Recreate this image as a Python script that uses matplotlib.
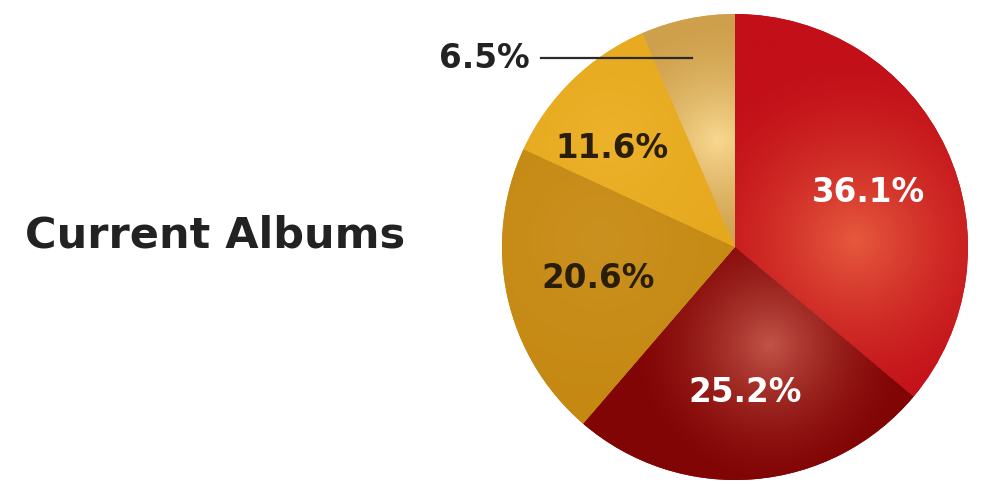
import numpy as np
import matplotlib.pyplot as plt
from matplotlib.colors import to_rgb

# album share, clockwise from 12 o'clock
labels = ['36.1%', '25.2%', '20.6%', '11.6%', '6.5%']
shares = [36.1, 25.2, 20.6, 11.6, 6.5]
title = 'Current Albums'

base_cols = ['#c20f18', '#820505', '#c58912', '#e5a71c', '#cfa04c']
glow_cols = ['#e65a3e', '#c25448', '#cb9120', '#ecb22a', '#f8d890']
glow_pts = [(855, 240), (770, 345), (600, 240), (610, 140), (718, 140)]
glow_rad = [190, 140, 200, 200, 120]
text_cols = ['white', 'white', '#2a1e0a', '#2a1e0a', '#222222']

W, H = 987, 484
cx, cy, R = 735, 237, 233

fig = plt.figure(figsize=(W / 100, H / 100), dpi=100)
ax = fig.add_axes([0, 0, 1, 1])

wedges, _ = ax.pie(shares, startangle=90, counterclock=False, center=(cx, cy),
                   radius=R, colors=base_cols, frame=True,
                   wedgeprops=dict(linewidth=0))
ax.set_xlim(0, W)
ax.set_ylim(0, H)
ax.set_aspect('equal')
ax.axis('off')

# soft radial shading inside each wedge (glow points given from the top edge)
xs = np.linspace(cx - R, cx + R, 400)
ys = np.linspace(cy - R, cy + R, 400)
gx, gy = np.meshgrid(xs, ys)
for w, bc, gc, (hx, hy), rr in zip(wedges, base_cols, glow_cols, glow_pts, glow_rad):
    d = np.sqrt((gx - hx) ** 2 + (gy - (H - hy)) ** 2) / rr
    t = np.clip(1 - d, 0, 1) ** 1.6
    b = np.array(to_rgb(bc))
    g = np.array(to_rgb(gc))
    img = b[None, None, :] * (1 - t[..., None]) + g[None, None, :] * t[..., None]
    im = ax.imshow(img, extent=(cx - R, cx + R, cy - R, cy + R), origin='lower',
                   interpolation='bilinear', zorder=2)
    im.set_clip_path(w)

# value labels
label_pos = [(868, 193), (745, 392), (598, 278), (612, 148)]
for lab, (px, py), tc in zip(labels[:4], label_pos, text_cols[:4]):
    ax.text(px, H - py, lab, ha='center', va='center', fontsize=23.5,
            fontweight='bold', color=tc, family='DejaVu Sans', zorder=5)

# the thin slice gets an outside label with a leader line
ax.plot([541, 692], [H - 58, H - 58], color='#2a2a2a', lw=1.6, zorder=5)
ax.text(484, H - 58, labels[4], ha='center', va='center', fontsize=23.5,
        fontweight='bold', color=text_cols[4], family='DejaVu Sans', zorder=5)

ax.text(25, H - 236, title, ha='left', va='center', fontsize=31,
        fontweight='bold', color='#222222', family='DejaVu Sans')

fig.savefig('out.png', dpi=100)
